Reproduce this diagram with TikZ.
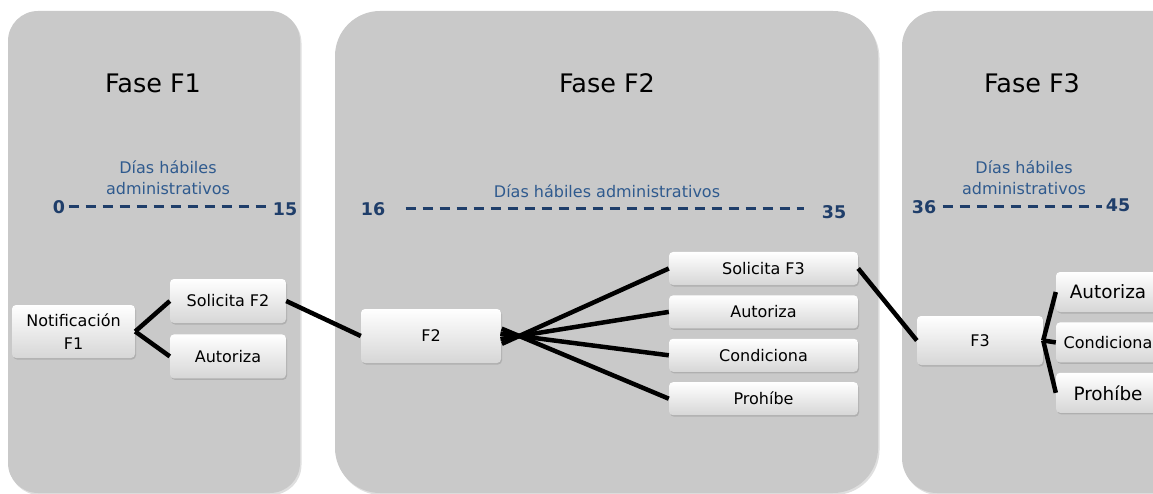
\documentclass[tikz,border=0pt]{standalone}
\usepackage{fontspec}
\setmainfont{DejaVu Sans}
\usetikzlibrary{positioning,shadows,calc}

\definecolor{panelgray}{HTML}{C9C9C9}
\definecolor{dayblue}{HTML}{2F5A8E}
\definecolor{numblue}{HTML}{1F3E6A}

\tikzset{
  phase/.style={fill=panelgray, drop shadow={opacity=0.25, shadow xshift=1.5pt, shadow yshift=-2pt}},
  box/.style={rounded corners=4pt, top color=white, bottom color=black!16,
    drop shadow={opacity=0.35, shadow xshift=1pt, shadow yshift=-1.5pt},
    font=\fontsize{16}{23}\selectfont, align=center, inner sep=0pt},
  bigbox/.style={box, font=\fontsize{18.4}{23}\selectfont},
  title/.style={font=\fontsize{25.5}{30}\selectfont},
  days/.style={text=dayblue, font=\fontsize{16}{21}\selectfont, align=center},
  num/.style={text=numblue, font=\bfseries\fontsize{17.5}{20}\selectfont},
  dayline/.style={numblue, line width=3pt, dash pattern=on 10pt off 7pt},
  link/.style={line width=4.5pt, black}
}

\begin{document}
\begin{tikzpicture}[x=1pt, y=-1pt]
\useasboundingbox (0,0) rectangle (1153,494);
\clip (0,0) rectangle (1153,494);

% fases
\path[phase, rounded corners=30pt] (8,11) rectangle (300,493);
\path[phase, rounded corners=45pt] (335,11) rectangle (878,493);
\path[phase, rounded corners=35pt] (902,11) rectangle (1200,493);

\node[title] (t1) at (153,83) {Fase F1};
\node[title] (t2) at (607,83) {Fase F2};
\node[title] (t3) at (1032,83) {Fase F3};

% dias habiles
\node[days] (d1) at (168,178) {Días hábiles\\administrativos};
\node[days] (d2) at (607,191) {Días hábiles administrativos};
\node[days] (d3) at (1024,178) {Días hábiles\\administrativos};

\node[num] (n0) at (59,207) {0};
\node[num] (n15) at (285,209) {15};
\node[num] (n16) at (373,209) {16};
\node[num] (n35) at (834,212) {35};
\node[num] (n36) at (924,207) {36};
\node[num] (n45) at (1118,205) {45};

\draw[dayline] (n0.east) -- (n0.east -| n15.west);
\draw[dayline, shorten <=17pt, shorten >=14pt] (n16.east) -- (n16.east -| n35.west);
\draw[dayline, shorten <=3pt] (n36.east) -- (n36.east -| n45.west);

% fase F1
\node[box, minimum width=123pt, minimum height=53pt] (nf1) at (73.5,331.5) {Notificación\\F1};
\node[box, minimum width=116pt, minimum height=44pt] (sol2) at (228,301) {Solicita F2};
\node[box, minimum width=116pt, minimum height=44pt, below=11pt of sol2] (aut1) {Autoriza};

% fase F2
\node[box, minimum width=140pt, minimum height=54pt] (f2) at (431,336) {F2};
\node[box, minimum width=189pt, minimum height=33pt] (s3) at (763.5,268.5) {Solicita F3};
\node[box, minimum width=189pt, minimum height=33pt, below=10pt of s3] (aut2) {Autoriza};
\node[box, minimum width=189pt, minimum height=33pt, below=10pt of aut2] (cond2) {Condiciona};
\node[box, minimum width=189pt, minimum height=33pt, below=10pt of cond2] (proh2) {Prohíbe};

% fase F3
\node[box, minimum width=126pt, minimum height=49pt] (f3) at (980,340.5) {F3};
\node[bigbox, minimum width=104pt, minimum height=40pt] (aut3) at (1108,292) {Autoriza};
\node[box, minimum width=104pt, minimum height=40pt, below=10pt of aut3] (cond3) {Condiciona};
\node[bigbox, minimum width=104pt, minimum height=40pt, below=10pt of cond3] (proh3) {Prohíbe};

% conectores
\draw[link] (nf1.east) -- (sol2.west);
\draw[link] (nf1.east) -- (aut1.west);
\draw[link] (sol2.east) -- (f2.west);

\coordinate (hub2) at ($(f2.east)+(18,0)$);
\foreach \b in {s3,aut2,cond2,proh2}
  \draw[link, shorten <=-19pt] (hub2) -- (\b.west);
\draw[link] (s3.east) -- (f3.west);

\foreach \b in {aut3,cond3,proh3}
  \draw[link] (f3.east) -- (\b.west);

\end{tikzpicture}
\end{document}
